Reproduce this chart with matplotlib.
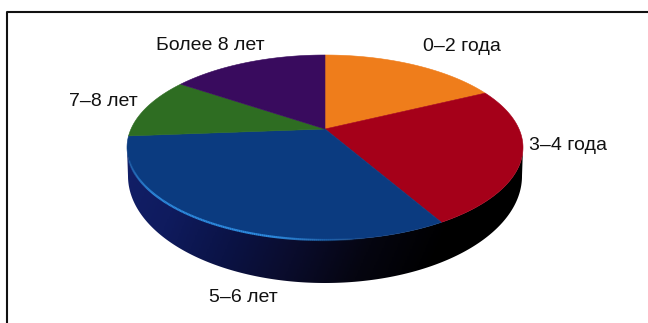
from __future__ import annotations

"""Pie chart with a raised rim: distribution by age group."""

import matplotlib

matplotlib.use("Agg")
import matplotlib.pyplot as plt
import numpy as np
from matplotlib.collections import LineCollection
from matplotlib.colors import LinearSegmentedColormap
from matplotlib.patches import Polygon

categories = ["0–2 года", "3–4 года", "5–6 лет", "7–8 лет", "Более 8 лет"]
shares = [15, 25, 37, 10, 13]
colors = ["#ef7d1b", "#a50019", "#0b3b80", "#2e6d22", "#390b5e"]

# Canvas is laid out in pixel units
WIDTH, HEIGHT = 648, 323
CX, CY = 325.0, 147.5
RX, RY = 198.0, 92.5
APEX = (325.0, 129.0)
# Outline of the base is a deeper ellipse than the top face
BASE_CY, BASE_RY = 176.0, 107.0
BASE_RX = 197.0


def rim(theta_deg):
    t = np.radians(theta_deg)
    return CX + RX * np.cos(t), CY - RY * np.sin(t)


def main() -> None:
    plt.rcParams["font.family"] = ["Liberation Sans", "DejaVu Sans"]

    fig = plt.figure(figsize=(WIDTH / 100, HEIGHT / 100), dpi=100)
    ax = fig.add_axes([0, 0, 1, 1])
    ax.set_xlim(0, WIDTH)
    ax.set_ylim(HEIGHT, 0)
    ax.axis("off")

    # Frame: only left and top edges are visible on the canvas
    ax.plot([7, 7, 648], [323, 11.5, 11.5], color="#111111", lw=1.5)

    # Side wall between the top ellipse and the base outline
    t = np.linspace(0, -180, 240)
    top_x, top_y = rim(t)
    base_x = CX + BASE_RX * np.cos(np.radians(t[::-1]))
    base_y = BASE_CY - BASE_RY * np.sin(np.radians(t[::-1]))
    side = np.vstack([np.column_stack([top_x, top_y]), np.column_stack([base_x, base_y])])
    side_patch = Polygon(side, closed=True, facecolor="none", edgecolor="none")
    ax.add_patch(side_patch)

    wall_cmap = LinearSegmentedColormap.from_list(
        "wall", ["#121f68", "#0f1b5e", "#0b1346", "#0a0c2c", "#050510", "#000000", "#000000"]
    )
    xfrac, yfrac = np.meshgrid(np.linspace(0, 1, 256), np.linspace(0, 1, 128))
    img = ax.imshow(
        np.clip(xfrac * 0.92 + yfrac * 0.14, 0, 1),
        extent=[CX - RX, CX + RX, BASE_CY + BASE_RY, CY],
        cmap=wall_cmap,
        vmin=0,
        vmax=1,
        aspect="auto",
        zorder=2,
    )
    img.set_clip_path(side_patch)
    ax.set_xlim(0, WIDTH)
    ax.set_ylim(HEIGHT, 0)

    # Top face: slices fan out from the off-centre apex, clockwise from 12 o'clock
    start = 90.0
    total = sum(shares)
    for share, color in zip(shares, colors):
        sweep = 360.0 * share / total
        x, y = rim(np.linspace(start, start - sweep, 120))
        pts = np.vstack([[APEX], np.column_stack([x, y])])
        ax.add_patch(Polygon(pts, closed=True, facecolor=color, edgecolor=color, lw=0.4, zorder=3))
        start -= sweep

    # Thin highlight along the rim of the blue slice, fading to the right
    x, y = rim(np.linspace(-172, -78, 160))
    segs = np.stack(
        [np.column_stack([x[:-1], y[:-1]]), np.column_stack([x[1:], y[1:]])], axis=1
    )
    fade = np.clip(np.sin(np.linspace(0.2, np.pi, len(segs))) * 1.3, 0, 1)
    seg_colors = np.zeros((len(segs), 4))
    seg_colors[:, :3] = matplotlib.colors.to_rgb("#2d8ade")
    seg_colors[:, 3] = fade
    ax.add_collection(LineCollection(segs, colors=seg_colors, linewidths=1.6, zorder=4))

    # Category labels
    label_pos = [(462, 46.5), (568, 146), (243, 297), (103, 101), (210, 45.5)]
    for name, (lx, ly) in zip(categories, label_pos):
        ax.text(lx, ly, name, ha="center", va="center", fontsize=14, color="#111111", zorder=5)

    fig.savefig("out.png", dpi=100)
    plt.close(fig)


if __name__ == "__main__":
    main()
